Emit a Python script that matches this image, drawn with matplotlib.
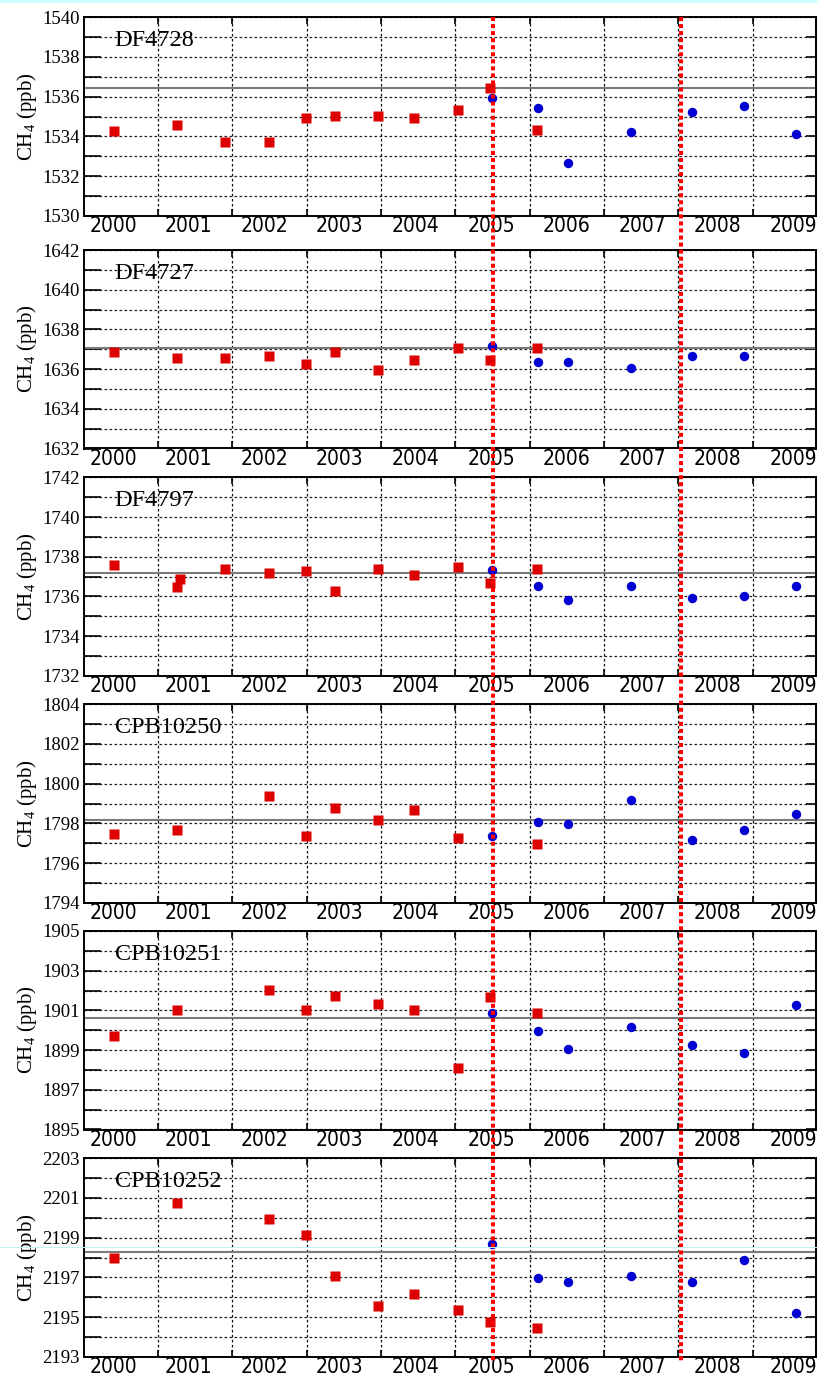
import numpy as np
import matplotlib
matplotlib.use('Agg')
import matplotlib.pyplot as plt
from matplotlib import font_manager
from matplotlib.lines import Line2D
from matplotlib.patches import Rectangle
from matplotlib.transforms import blended_transform_factory

## sample dates in decimal years
sq_x = [2000.01, 2000.85, 2001.48, 2002.06, 2002.55, 2002.94, 2003.51, 2003.98, 2004.56, 2004.99, 2005.61]
sq_x_df4797 = [2000.01, 2000.85, 2000.89, 2001.48, 2002.06, 2002.55, 2002.94, 2003.51, 2003.98, 2004.56, 2004.99, 2005.61]
sq_x_cpb10250 = [2000.01, 2000.85, 2002.06, 2002.55, 2002.94, 2003.51, 2003.98, 2004.56, 2005.61]
sq_x_cpb = [2000.01, 2000.85, 2002.06, 2002.55, 2002.94, 2003.51, 2003.98, 2004.56, 2004.99, 2005.61]
circ_x = [2005.01, 2005.62, 2006.02, 2006.85, 2007.66, 2008.35, 2009.03]
circ_x_df4727 = [2005.01, 2005.62, 2006.02, 2006.85, 2007.66, 2008.35]

## CH4 values (ppb)
df4728_sq = [1534.25, 1534.55, 1533.72, 1533.72, 1534.93, 1535.03, 1535.03, 1534.95, 1535.33, 1536.44, 1534.33]
df4728_circ = [1535.95, 1535.45, 1532.65, 1534.24, 1535.23, 1535.55, 1534.14]
df4728_ref = 1536.45

df4727_sq = [1636.86, 1636.55, 1636.55, 1636.66, 1636.25, 1636.86, 1635.95, 1636.45, 1637.08, 1636.45, 1637.08]
df4727_circ = [1637.18, 1636.35, 1636.35, 1636.08, 1636.67, 1636.67]
df4727_ref = 1637.04

df4797_sq = [1737.57, 1736.48, 1736.9, 1737.39, 1737.17, 1737.29, 1736.26, 1737.39, 1737.08, 1737.49, 1736.7, 1737.4]
df4797_circ = [1737.32, 1736.53, 1735.83, 1736.53, 1735.93, 1736.01, 1736.53]
df4797_ref = 1737.2

cpb10250_sq = [1797.49, 1797.68, 1799.36, 1797.36, 1798.76, 1798.15, 1798.65, 1797.24, 1796.95]
cpb10250_circ = [1797.37, 1798.08, 1797.96, 1799.18, 1797.17, 1797.69, 1798.49]
cpb10250_ref = 1798.17

cpb10251_sq = [1899.73, 1901.03, 1902.04, 1901.03, 1901.74, 1901.33, 1901.03, 1898.12, 1901.66, 1900.86]
cpb10251_circ = [1900.86, 1899.95, 1899.04, 1900.15, 1899.26, 1898.85, 1901.25]
cpb10251_ref = 1900.64

cpb10252_sq = [2197.96, 2200.74, 2199.96, 2199.16, 2197.05, 2195.56, 2196.17, 2195.38, 2194.75, 2194.45]
cpb10252_circ = [2198.68, 2196.98, 2196.76, 2197.08, 2196.76, 2197.87, 2195.19]
cpb10252_ref = 2198.26

names = ['DF4728', 'DF4727', 'DF4797', 'CPB10250', 'CPB10251', 'CPB10252']
y_lows = [1530, 1632, 1732, 1794, 1895, 2193]
year_labels = [2000, 2001, 2002, 2003, 2004, 2005, 2006, 2007, 2008, 2009]
grid_x = [2000.6, 2001.58, 2002.56, 2003.54, 2004.53, 2005.51, 2006.49, 2007.47, 2008.46]
events = [2005.03, 2007.51]

panels = [
    (sq_x, df4728_sq, circ_x, df4728_circ, df4728_ref),
    (sq_x, df4727_sq, circ_x_df4727, df4727_circ, df4727_ref),
    (sq_x_df4797, df4797_sq, circ_x, df4797_circ, df4797_ref),
    (sq_x_cpb10250, cpb10250_sq, circ_x, cpb10250_circ, cpb10250_ref),
    (sq_x_cpb, cpb10251_sq, circ_x, cpb10251_circ, cpb10251_ref),
    (sq_x_cpb, cpb10252_sq, circ_x, cpb10252_circ, cpb10252_ref),
]

plt.rcParams['font.family'] = ['Liberation Serif', 'DejaVu Serif']
plt.rcParams['mathtext.fontset'] = 'custom'
plt.rcParams['mathtext.rm'] = 'Liberation Serif'
plt.rcParams['mathtext.it'] = 'Liberation Serif:italic'

# narrow sans for the year labels, if one is around
fams = {f.name for f in font_manager.fontManager.ttflist}
cond = [(f.name, f.stretch) for f in font_manager.fontManager.ttflist
        if f.stretch in ('condensed', 'semi-condensed') and f.style == 'normal' and f.weight in (400, 'normal')]
if 'Liberation Sans Narrow' in fams:
    xfp = font_manager.FontProperties(family='Liberation Sans Narrow', size=17)
elif cond:
    pick = sorted(cond, key=lambda c: ('DejaVu Sans' not in c[0], 'Sans' not in c[0]))[0]
    xfp = font_manager.FontProperties(family=pick[0], stretch=pick[1], size=15)
else:
    xfp = font_manager.FontProperties(family='Liberation Sans', size=14)

W, H = 817, 1380
fig = plt.figure(figsize=(W / 100, H / 100), dpi=100)
fig.patch.set_facecolor('white')

tops = [17.3, 250, 477.3, 704.3, 931, 1158.3]
ph = 198.5
left, right = 84, 816

axes = []
for i, (sx, sy, cx, cy, ref) in enumerate(panels):
    ax = fig.add_axes([left / W, 1 - (tops[i] + ph) / H, (right - left) / W, ph / H])
    axes.append(ax)
    lo = y_lows[i]
    ax.set_ylim(lo, lo + 10)
    ax.set_xlim(1999.616, 2009.30)

    ax.axhline(ref, color='#7a7a7a', lw=1.5, zorder=2)
    ax.plot(sx, sy, 's', color='#dd0000', ms=7.3, mec='none', zorder=3)
    ax.plot(cx, cy, 'o', color='#0000d2', ms=6.8, mec='none', zorder=4)

    ax.set_yticks(np.arange(lo, lo + 11, 2))
    ax.set_yticks(np.arange(lo, lo + 11, 1), minor=True)
    ax.set_yticklabels([str(v) for v in np.arange(lo, lo + 11, 2)], fontsize=13.5)
    ax.set_xticks(year_labels)
    ax.set_xticklabels([str(y) for y in year_labels], fontproperties=xfp)
    ax.set_xticks(grid_x, minor=True)

    ax.tick_params(axis='y', which='both', direction='in', length=12, width=1.2,
                   left=True, right=False, pad=3)
    ax.tick_params(axis='x', which='major', length=0, pad=0.5)
    ax.tick_params(axis='x', which='minor', direction='in', length=5, width=1.2,
                   top=True, bottom=True)

    sec = ax.secondary_yaxis('right')
    sec.set_yticks(np.arange(lo, lo + 11, 2))
    sec.set_yticks(np.arange(lo, lo + 11, 1), minor=True)
    sec.tick_params(which='both', direction='in', length=7, width=1.2, labelright=False)
    sec.spines['right'].set_linewidth(1.4)

    ax.grid(axis='y', which='both', color='#222222', lw=0.9, linestyle=(0, (2.1, 1.9)))
    ax.grid(axis='x', which='minor', color='#111111', lw=0.9, linestyle=(0, (2.1, 1.9)))
    ax.grid(axis='x', which='major', visible=False)
    ax.set_axisbelow(True)
    for s in ax.spines.values():
        s.set_linewidth(1.4)

    ax.set_ylabel(r'$\mathrm{CH_4}$ (ppb)', fontsize=15)
    ax.yaxis.set_label_coords(-0.062, 0.5)
    ax.text(0.042, 0.855, names[i], transform=ax.transAxes, fontsize=17.5, va='baseline')

# red dotted event lines run through all panels
for ev in events:
    tr = blended_transform_factory(axes[-1].transData, fig.transFigure)
    fig.add_artist(Line2D([ev, ev], [1 - 17.3 / H, 1 - 1361 / H], transform=tr,
                          color='#ff0000', lw=2.9, linestyle=(0, (1.0, 0.75)), zorder=10))

# thin cyan strips from the original screenshot
fig.add_artist(Rectangle((0, 1 - 3 / H), 1, 3 / H, transform=fig.transFigure,
                         color='#ccffff', lw=0))
fig.add_artist(Line2D([0, 1], [1 - 1247 / H] * 2, transform=fig.transFigure,
                      color='#bff3f3', lw=0.7, zorder=10))

fig.savefig('out.png', dpi=100)
